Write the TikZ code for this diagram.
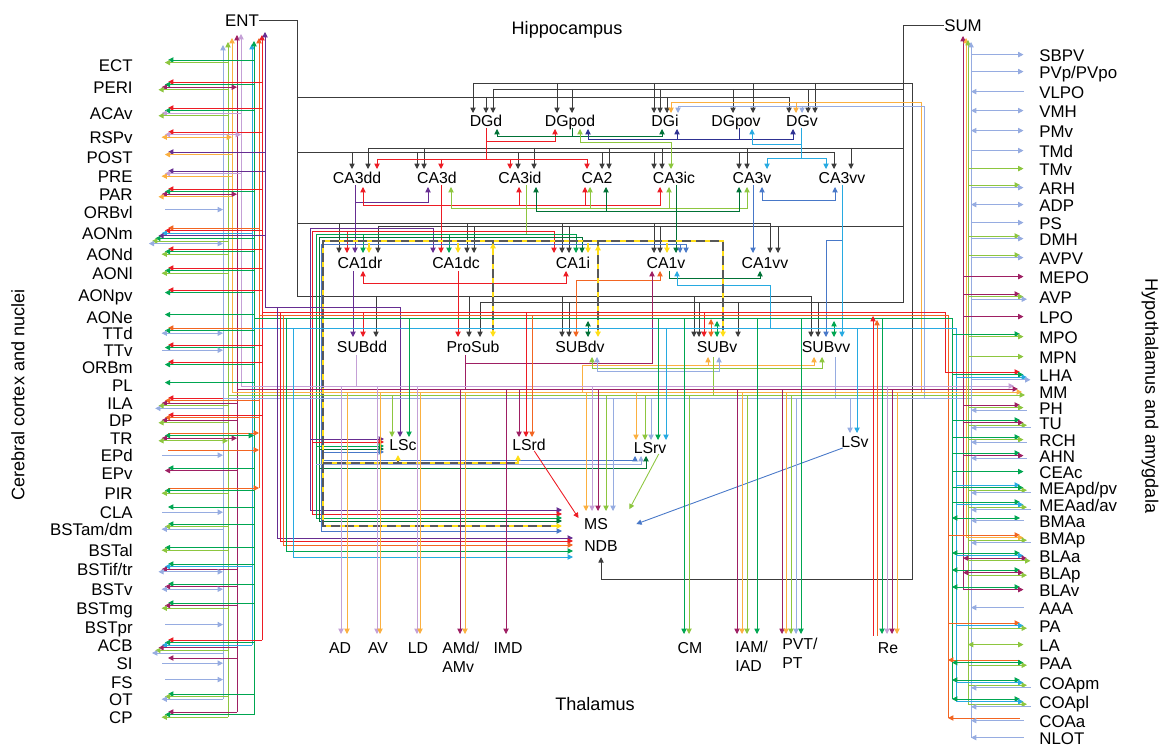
\documentclass[tikz,border=0pt]{standalone}
\usepackage{fontspec}
\setmainfont{Liberation Sans}
\usetikzlibrary{arrows.meta}
\usetikzlibrary{calc}
\usetikzlibrary{positioning}

\definecolor{cR}{RGB}{237,28,36}
\definecolor{cO}{RGB}{242,101,34}
\definecolor{cLO}{RGB}{251,176,64}
\definecolor{cG}{RGB}{0,166,81}
\definecolor{cDG}{RGB}{0,114,54}
\definecolor{cLG}{RGB}{141,198,63}
\definecolor{cB}{RGB}{39,170,225}
\definecolor{cMB}{RGB}{72,120,200}
\definecolor{cDB}{RGB}{46,49,146}
\definecolor{cLB}{RGB}{150,172,225}
\definecolor{cP}{RGB}{102,45,145}
\definecolor{cM}{RGB}{158,31,99}
\definecolor{cLV}{RGB}{196,160,214}
\definecolor{cY}{RGB}{255,222,23}
\definecolor{cK}{RGB}{60,60,60}

\begin{document}
\begin{tikzpicture}[x=0.02cm, y=-0.02cm, >={Triangle[length=3pt,width=3pt]},
    lbl/.style={font=\fontsize{9}{10}\selectfont, inner sep=0pt, text height=6.4pt, text depth=0pt},
    slbl/.style={font=\fontsize{9.6}{11}\selectfont, inner sep=0pt, text height=6.9pt, text depth=0pt},
    ttl/.style={font=\fontsize{10.3}{12}\selectfont, inner sep=0pt},
    lnk/.style={line width=0.5pt},
    gry/.style={line width=0.45pt, cK},
    aL/.style={->}, aR/.style={<-}, aB/.style={<->},
    dashln/.style={line width=0.75pt, draw=cK!85, dash pattern=on 5pt off 3pt,
      preaction={draw=cY, line width=1.4pt, solid}}]
  \useasboundingbox (0,0) rectangle (1166,746);

  % titles
  \node [ttl] (hip) at (567,30) {Hippocampus};
  \node [ttl] (tha) at (595,704) {Thalamus};
  \node [ttl, rotate=90] (ctx) at (18,395) {Cerebral cortex and nuclei};
  \node [ttl, rotate=-90] (hyp) at (1150,396) {Hypothalamus and amygdala};
  \node [slbl] (ENT) at (242,20) {ENT};
  \node [slbl] (SUM) at (963,25) {SUM};

  % hippocampus, septum
  \foreach \n/\x/\y in {DGd/486/121, DGpod/570/121, DGi/665/121, DGpov/736/121, DGv/802/121,
      CA3dd/357/178, CA3d/437/178, CA3id/520/178, CA2/597/178, CA3ic/674/178, CA3v/752/178, CA3vv/842/178,
      CA1dr/360/263, CA1dc/456/263, CA1i/573/263, CA1v/666/263, CA1vv/765/263,
      SUBdd/362/347, ProSub/473/347, SUBdv/580/347, SUBv/717/347, SUBvv/826/347,
      LSc/403/445, LSrd/529/445, LSrv/650/448, LSv/855/442, MS/596/524, NDB/601/546}
    \node [lbl] (\n) at (\x,\y) {\n};

  % thalamus
  \foreach \n/\x in {AD/340, AV/378, LD/418, IMD/508, CM/690, Re/888}
    \node [lbl] (\n) at (\x,648) {\n};
  \node [lbl, anchor=west] (AMd) at (442,648) {AMd/};
  \node [lbl, anchor=west] (AMv) at (442,667) {AMv};
  \node [lbl, anchor=west] (IAM) at (735,647) {IAM/};
  \node [lbl, anchor=west] (IAD) at (735,666) {IAD};
  \node [lbl, anchor=west] (PVT) at (782,644) {PVT/};
  \node [lbl, anchor=west] (PT) at (782,663) {PT};

  % cortex and nuclei
  \foreach \n/\lab/\y in {ECT/ECT/65, PERI/PERI/87, ACAv/ACAv/113, RSPv/RSPv/137, POST/POST/157,
      PRE/PRE/176, PAR/PAR/194, ORBvl/ORBvl/212, AONm/AONm/233, AONd/AONd/254, AONl/AONl/273,
      AONpv/AONpv/295, AONe/AONe/317, TTd/TTd/333, TTv/TTv/350, ORBm/ORBm/367, PL/PL/385,
      ILA/ILA/403, DP/DP/420, TR/TR/438, EPd/EPd/455, EPv/EPv/473, PIR/PIR/493, CLA/CLA/512,
      BSTamdm/{BSTam/dm}/529, BSTal/BSTal/550, BSTiftr/{BSTif/tr}/569, BSTv/BSTv/589,
      BSTmg/BSTmg/608, BSTpr/BSTpr/627, ACB/ACB/645, SI/SI/663, FS/FS/682, OT/OT/699, CP/CP/717}
    \node [slbl, anchor=east] (\n) at (133,\y) {\lab};

  % hypothalamus and amygdala
  \foreach \n/\lab/\y in {SBPV/SBPV/55, PVp/{PVp/PVpo}/72, VLPO/VLPO/92, VMH/VMH/111, PMv/PMv/131,
      TMd/TMd/151, TMv/TMv/169, ARH/ARH/188, ADP/ADP/205, PS/PS/223, DMH/DMH/239, AVPV/AVPV/258,
      MEPO/MEPO/277, AVP/AVP/297, LPO/LPO/317, MPO/MPO/337, MPN/MPN/357, LHA/LHA/375, MM/MM/392,
      PH/PH/408, TU/TU/423, RCH/RCH/440, AHN/AHN/456, CEAc/CEAc/472, MEApd/{MEApd/pv}/488,
      MEAad/{MEAad/av}/505, BMAa/BMAa/521, BMAp/BMAp/538, BLAa/BLAa/556, BLAp/BLAp/573,
      BLAv/BLAv/590, AAA/AAA/608, PA/PA/626, LA/LA/645, PAA/PAA/663, COApm/COApm/683,
      COApl/COApl/702, COAa/COAa/721, NLOT/NLOT/738}
    \node [slbl, anchor=west] (\n) at (1039,\y) {\lab};

  % gray inputs
  \draw [gry] (ENT.east) -| (297,296) -- (811,296);
  \draw [gry] (297,97) -- (789,97);
  \draw [gry] (297,152) -- (834,152);
  \draw [gry] (297,223) -- (770,223);
  \draw [gry] (SUM.west) -| (903,302) -- (480,302);
  \draw [gry] (903,89) -- (493,89);
  \draw [gry] (903,148) -- (368,148);
  \draw [gry] (903,226) -- (378,226);
  \draw [gry,->] (473,83) -- (912,83) -- (912,579) -- (601,579) -- ([yshift=-3pt]NDB.south);
  \foreach \x/\ya/\yb in {473/83/113, 557/83/113, 654/83/113, 753/83/113, 815/83/113,
      493/89/113, 572/89/113, 660/89/113, 733/89/113, 808/89/113, 486/97/113, 667/97/113, 789/97/113,
      368/148/169, 424/148/169, 534/148/169, 609/148/169, 662/148/169, 747/148/169, 851/148/169,
      352/152/169, 417/152/169, 518/152/169, 602/152/169, 654/152/169, 739/152/169, 834/152/169,
      339/223/253, 467/223/253, 562/223/253, 654/223/253, 770/223/253,
      378/226/253, 474/226/253, 569/226/253, 660/226/253, 778/226/253,
      376/296/337, 469/296/337, 562/296/337, 694/296/337, 811/296/337,
      480/302/337, 569/302/337, 699/302/337, 738/302/337, 818/302/337}
    \draw [gry,->] (\x,\ya) -- (\x,\yb);

  % dentate gyrus
  \draw [lnk,cR] (486,128) -- (486,159);
  \draw [lnk,cR] (377,159) -- (587,159);
  \foreach \x in {377,441,510,587}
    \draw [lnk,cR,->] (\x,159) -- (\x,169);
  \draw [lnk,cR,->] (486,141) -| (555,129);
  \draw [lnk,cDG] (572,128) -- (572,136);
  \draw [lnk,cDG,<->] (497,129) |- (662,136) -- (662,129);
  \draw [lnk,cLG,<->] (580,129) |- (671,142) -- (671,169);
  \draw [lnk,cDB,<->] (588,129) |- (793,139) -- (793,129);
  \draw [lnk,cDB,->] (677,139) -- (677,129);
  \draw [lnk,cDB] (739,128) -- (739,139);
  \draw [lnk,cB] (801,128) -- (801,158);
  \draw [lnk,cB,->] (801,144) -| (752,129);
  \draw [lnk,cB,<->] (767,169) |- (826,158) -- (826,169);
  \draw [lnk,cLO] (921,392) -- (921,102) -- (671,102);
  \draw [lnk,cLB] (924,398) -- (924,106) -- (678,106);
  \foreach \col/\x/\y in {cLO/671/102, cLO/796/102, cLB/678/106, cLB/802/106}
    \draw [lnk,\col,->] (\x,\y) -- (\x,113);

  % CA3
  \draw [lnk,cP,->] (355,185) -- (355,253);
  \draw [lnk,cP,->] (355,202) -| (428,187);
  \draw [lnk,cR,->] (441,185) -- (441,253);
  \draw [lnk,cR,<->] (363,187) |- (660,205) -- (660,187);
  \foreach \x in {519,585}
    \draw [lnk,cR,->] (\x,205) -- (\x,187);
  \draw [lnk,cLG,<->] (451,187) |- (747,208) -- (747,187);
  \foreach \x in {590,669}
    \draw [lnk,cLG,->] (\x,208) -- (\x,187);
  \draw [lnk,cDG,<->] (536,187) |- (739,211) -- (739,187);
  \draw [lnk,cDG,->] (606,211) -- (606,187);
  \draw [lnk,cDG,->] (676,185) -- (676,253);
  \draw [lnk,cLG] (526,185) -- (526,234);
  \draw [lnk,cMB,->] (753,185) -- (753,253);
  \draw [lnk,cMB,<->] (762,187) |- (835,200) -- (835,187);
  \draw [lnk,cB,->] (842,185) -- (842,337);
  \draw [lnk,cMB,->] (842,240) -| (826,337);

  % CA1
  \draw [lnk,cR,<->] (363,271) |- (566,283) -- (566,271);
  \draw [lnk,cO,<->] (576,337) |- (660,280) -- (660,271);
  \draw [lnk,cM,->] (465,355) |- (652,363) -- (652,271);
  \draw [lnk,cM] (465,355) -- (465,389);
  \draw [lnk,cDG,->] (669,271) |- (760,278) -- (760,271);
  \draw [lnk,cB,<-] (677,271) |- (770,285) -- (770,328);
  \draw [lnk,cP,->] (353,271) -- (353,337);
  \draw [lnk,cR,->] (458,271) -- (458,337);

  % CA1 to septum
  \draw [lnk,cP,<->] (433,253) |- (310,228) -- (310,510) -- (562,510);
  \draw [lnk,cR,<->] (554,253) |- (312,231) -- (312,514) -- (562,514);
  \draw [lnk,cR,->] (347,231) -- (347,253);
  \draw [lnk,cG,<->] (576,253) |- (316,234) -- (316,518) -- (562,518);
  \foreach \x in {363,449}
    \draw [lnk,cG,->] (\x,234) -- (\x,253);
  \draw [lnk,cDG,<->] (582,253) |- (319,237) -- (319,521) -- (562,521);
  \draw [lnk,cMB,<->] (686,253) |- (321,244) -- (321,531) -- (562,531);
  \draw [lnk,cMB,->] (680,244) -- (680,253);
  \foreach \col/\x/\y in {cP/310/439, cR/312/442, cG/316/446, cDG/319/449, cMB/321/452}
    \draw [lnk,\col,->] (\x,\y) -- (384,\y);
  \draw [lnk,cMB,->] (321,460) -| (635,456);
  \draw [lnk,cLB,->] (316,464) -| (641,456);
  \draw [lnk,cDG,->] (319,468) -| (646,456);

  % dashed path
  \draw [dashln] (723,335) -- (723,241) -- (323,241) -- (323,526) -- (558,526);
  \draw [dashln] (323,463) -- (518,463) -- (518,458);
  \draw [dashln] (398,463) -- (398,458);
  \draw [dashln] (493,241) -- (493,333);
  \draw [dashln] (598,241) -- (598,333);
  \foreach \xa/\ya/\xb/\yb in {723/330/723/337, 554/526/562/526, 518/460/518/455, 398/460/398/455,
      493/330/493/337, 598/330/598/337, 493/250/493/243, 598/252/598/245,
      369/243/369/253, 458/243/458/253, 588/243/588/253, 667/243/667/253}
    \draw [cY,line width=0.8pt,->] (\xa,\ya) -- (\xb,\yb);

  % subiculum
  \draw [lnk,cR,->] (363,312) -- (363,337);
  \draw [lnk,cR,->] (704,312) -- (704,337);
  \draw [lnk,cO,<->] (711,319) -- (711,337);
  \draw [lnk,cG,<->] (717,321) -- (717,337);
  \draw [lnk,cDG,<->] (588,321) -- (588,337);
  \draw [lnk,cG,<->] (834,321) -- (834,337);
  \draw [lnk,cLV] (356,355) -- (356,386);
  \draw [lnk,cLO,->] (582,392) |- (814,365) -- (814,357);
  \draw [lnk,cLO,->] (708,365) -- (708,357);
  \draw [lnk,cLG,<->] (592,357) |- (822,368) -- (822,357);
  \draw [lnk,cLB,<->] (597,357) |- (719,371) -- (719,357);
  \draw [lnk,cLG] (713,357) -- (713,395);
  \draw [lnk,cLB] (835,357) -- (835,398);

  % ENT bus
  \foreach \col/\x/\yt/\yb in {cLB/223/45/699, cLG/228/42/717, cLO/232/38/392, cM/237/35/712,
      cLV/241/34/386, cB/252/44/645, cG/254/41/715, cO/259/38/488, cR/262/35/640, cP/265/32/307}
    \draw [lnk,\col,->] (\x,\yb) -- (\x,\yt);
  \foreach \n/\col/\bx/\pos/\arr in {ECT/cG/254/0/aL, ECT/cLG/228/1/aL,
      PERI/cR/262/0/aL, PERI/cG/254/1/aL, PERI/cM/237/2/aB, PERI/cLG/228/3/aL,
      ACAv/cR/262/0/aL, ACAv/cG/254/1/aL, ACAv/cLV/241/2/aL, ACAv/cLG/228/3/aL,
      RSPv/cR/262/0/aL, RSPv/cLV/241/1/aB, RSPv/cLO/232/2/aB,
      POST/cP/265/0/aL, POST/cLO/232/1/aL,
      PRE/cP/265/0/aL, PRE/cLV/241/1/aL, PRE/cLO/232/2/aL,
      PAR/cR/262/0/aL, PAR/cG/254/1/aL, PAR/cM/237/2/aB, PAR/cLO/232/3/aL,
      ORBvl/cLB/223/1/aR,
      AONm/cO/259/0/aL, AONm/cR/262/1/aL, AONm/cB/252/2/aL, AONm/cP/265/3/aL, AONm/cG/254/4/aL,
      AONm/cLG/228/5/aL, AONm/cLB/223/6/aB,
      AONd/cR/262/0/aL, AONd/cG/254/1/aL, AONd/cLG/228/2/aL,
      AONl/cR/262/0/aL, AONl/cG/254/1/aL, AONl/cLG/228/2/aL,
      AONpv/cR/262/0/aL, AONpv/cG/254/1/aL,
      AONe/cG/254/1/aL,
      TTd/cO/259/0/aL, TTd/cG/254/1/aL, TTd/cLB/223/2/aB,
      TTv/cR/262/0/aL, TTv/cG/254/1/aL, TTv/cLB/223/2/aR,
      ORBm/cR/262/0/aL, ORBm/cG/254/1/aL,
      PL/cG/254/1/aL,
      ILA/cR/262/0/aL, ILA/cO/259/1/aL, ILA/cM/237/2/aL, ILA/cLG/228/3/aL, ILA/cLB/223/4/aL,
      DP/cR/262/0/aL, DP/cO/259/1/aL, DP/cM/237/2/aL, DP/cLG/228/3/aL,
      TR/cO/259/0/aR, TR/cG/254/1/aB, TR/cM/237/2/aB, TR/cLG/228/3/aB,
      EPd/cO/259/0/aR, EPd/cLB/223/2/aR,
      EPv/cG/254/0/aL, EPv/cM/237/1/aL,
      PIR/cO/259/0/aR, PIR/cG/254/1/aL, PIR/cLG/228/2/aL,
      CLA/cG/254/0/aL, CLA/cLB/223/2/aR,
      BSTamdm/cG/254/0/aL, BSTamdm/cLG/228/1/aL, BSTamdm/cLB/223/2/aL,
      BSTal/cG/254/1/aL, BSTal/cLG/228/2/aL,
      BSTiftr/cG/254/0/aL, BSTiftr/cB/252/1/aL, BSTiftr/cM/237/2/aL, BSTiftr/cLB/223/3/aB,
      BSTv/cG/254/0/aL, BSTv/cM/237/1/aL, BSTv/cLB/223/2/aB,
      BSTmg/cG/254/0/aL, BSTmg/cM/237/1/aL, BSTmg/cLG/228/2/aL,
      BSTpr/cLB/223/1/aR,
      ACB/cR/262/0/aL, ACB/cG/254/1/aL, ACB/cB/252/2/aL, ACB/cM/237/3/aL, ACB/cLG/228/4/aL,
      ACB/cLB/223/5/aL,
      SI/cM/237/0/aL, SI/cLB/223/2/aR,
      FS/cLB/223/1/aR,
      OT/cG/254/0/aL, OT/cLG/228/1/aL, OT/cLB/223/2/aL,
      CP/cM/237/0/aL, CP/cG/254/1/aL, CP/cLG/228/2/aL}{
    \pgfmathsetmacro\dy{-5+2.6*\pos}
    \pgfmathsetmacro\tx{168-3.2*\pos}
    \draw [lnk,\col,\arr] ($(\n.east -| \bx,0)+(0,\dy)$) -- ($(\n.east -| \tx,0)+(0,\dy)$);
  }

  % long bundles
  \draw [lnk,cP,->] (265,307) -- (400,307) -- (400,437);
  \draw [lnk,cR] (262,312) -- (945,312) -- (945,372);
  \draw [lnk,cO] (259,315) -- (948,315) -- (948,718);
  \draw [lnk,cG] (254,318) -- (952,318) -- (952,699);
  \draw [lnk,cB] (252,328) -- (956,328) -- (956,702);
  \draw [lnk,cLV,->] (241,386) -- ($(MM.west)+(-25,-6)$);
  \draw [lnk,cM,->] (237,389) -- ($(MM.west)+(-21,-3)$);
  \draw [lnk,cLO,->] (232,392) -- ($(MM.west)+(-17,0)$);
  \draw [lnk,cLG,->] (228,395) -- ($(MM.west)+(-14,3)$);
  \draw [lnk,cLB] (223,398) -- (971,398);

  % to NDB
  \foreach \col/\x/\ya/\yb in {cP/277/307/538, cR/280/312/541, cO/283/315/545, cG/286/318/551, cB/293/328/557}
    \draw [lnk,\col,->] (\x,\ya) -- (\x,\yb) -- (573,\yb);

  % to lateral septum
  \foreach \col/\x/\ya/\yb in {cLG/392/395/437, cG/409/318/437, cM/519/389/437, cR/526/312/437,
      cO/532/315/437, cLO/636/392/440, cLG/645/395/440, cLB/651/398/440, cG/658/318/440,
      cB/666/328/440, cLB/850/398/433, cB/857/328/433}
    \draw [lnk,\col,->] (\x,\ya) -- (\x,\yb);
  \draw [lnk,cR,->] ([xshift=3pt]LSrd.south) -- ([xshift=-3pt]MS.north west);
  \draw [lnk,cLG,->] ([xshift=5pt]LSrv.south) -- ([xshift=12pt,yshift=5pt]MS.north east);
  \draw [lnk,cMB,->] ([xshift=-7pt]LSv.south) -- ([xshift=16pt]MS.east);
  \foreach \col/\x/\ya in {cLO/586/392, cLV/592/386, cM/598/389, cLG/606/395, cLB/613/398}
    \draw [lnk,\col,->] (\x,\ya) -- (\x,511);

  % to thalamus
  \foreach \col/\x/\ya in {cLV/341/386, cLO/347/392, cLV/377/386, cLO/380/392, cLV/417/386,
      cLO/420/392, cM/460/389, cLO/465/392, cM/506/389, cG/684/318, cLG/689/395, cM/737/389,
      cLO/742/392, cLG/747/395, cG/757/318, cM/782/389, cLO/786/392, cLG/791/395, cLB/796/398,
      cG/801/318, cG/882/318, cLV/887/386, cM/892/389, cLO/897/392}
    \draw [lnk,\col,->] (\x,\ya) -- (\x,634);
  \draw [lnk,cR,<-] (873,316) -- (873,636);
  \draw [lnk,cO,<-] (877,320) -- (877,636);

  % SUM bus
  \foreach \col/\x/\yt/\yb in {cM/963/36/590, cLO/966/38/538, cLG/968/40/704, cLB/971/42/738}
    \draw [lnk,\col,->] (\x,\yb) -- (\x,\yt);
  \foreach \n/\col/\bx/\pos/\arr in {SBPV/cLB/971/1/aL, PVp/cLB/971/1/aL, VLPO/cLB/971/1/aR,
      VMH/cLB/971/1/aB, PMv/cLB/971/1/aB, TMd/cLB/971/1/aL, TMv/cLG/968/1/aL,
      ARH/cLG/968/0/aL, ARH/cLB/971/1/aL, ADP/cLB/971/1/aB, PS/cLB/971/1/aL,
      DMH/cLG/968/0/aL, DMH/cLB/971/1/aL, AVPV/cLG/968/0/aL, AVPV/cLB/971/1/aL,
      MEPO/cM/963/1/aL, AVP/cM/963/0/aL, AVP/cLG/968/1/aL, AVP/cLB/971/2/aL, LPO/cM/963/1/aL,
      MPO/cG/952/0/aL, MPO/cLG/968/1/aL, MPN/cLG/968/1/aL,
      LHA/cR/945/0/aL, LHA/cG/952/1/aL, LHA/cB/956/2/aL, LHA/cLB/971/3/aL,
      PH/cM/963/0/aL, PH/cLG/968/1/aL, PH/cLB/971/2/aR,
      TU/cG/952/0/aL, TU/cM/963/1/aL, TU/cLG/968/2/aL, TU/cLB/971/3/aR,
      RCH/cG/952/0/aL, RCH/cLG/968/1/aL, RCH/cLB/971/2/aR,
      AHN/cG/952/0/aL, AHN/cM/963/1/aL, AHN/cLB/971/2/aR,
      CEAc/cG/952/1/aL,
      MEApd/cB/956/0/aL, MEApd/cG/952/1/aL, MEApd/cLG/968/2/aL, MEApd/cLB/971/3/aR,
      MEAad/cG/952/0/aL, MEAad/cB/956/1/aL, MEAad/cLG/968/2/aL, MEAad/cLB/971/3/aR,
      BMAa/cG/952/0/aB, BMAa/cLB/971/1/aR,
      BMAp/cO/948/0/aL, BMAp/cLO/966/1/aL, BMAp/cLG/968/2/aL, BMAp/cLB/971/3/aR,
      BLAa/cG/952/0/aB, BLAa/cB/956/1/aL, BLAa/cM/963/2/aB, BLAa/cLG/968/3/aL,
      BLAp/cG/952/0/aB, BLAp/cM/963/1/aB, BLAp/cLG/968/2/aL,
      BLAv/cG/952/0/aB, BLAv/cM/963/1/aL,
      AAA/cLB/971/1/aR,
      PA/cO/948/0/aL, PA/cB/956/1/aL, PA/cLG/968/2/aL,
      LA/cLG/968/1/aB,
      PAA/cO/948/0/aR, PAA/cG/952/1/aB, PAA/cLG/968/2/aL,
      COApm/cG/952/0/aB, COApm/cB/956/1/aL, COApm/cLG/968/2/aL, COApm/cLB/971/3/aR,
      COApl/cG/952/0/aB, COApl/cB/956/1/aL, COApl/cLG/968/2/aL, COApl/cLB/971/3/aR,
      COAa/cO/948/0/aR, COAa/cLB/971/1/aR,
      NLOT/cLB/971/1/aR}{
    \pgfmathsetmacro\dy{-3+2.6*\pos}
    \pgfmathsetmacro\tx{1020+3.5*\pos}
    \draw [lnk,\col,\arr] ($(\n.west -| \bx,0)+(0,\dy)$) -- ($(\n.west -| \tx,0)+(0,\dy)$);
  }
\end{tikzpicture}
\end{document}
